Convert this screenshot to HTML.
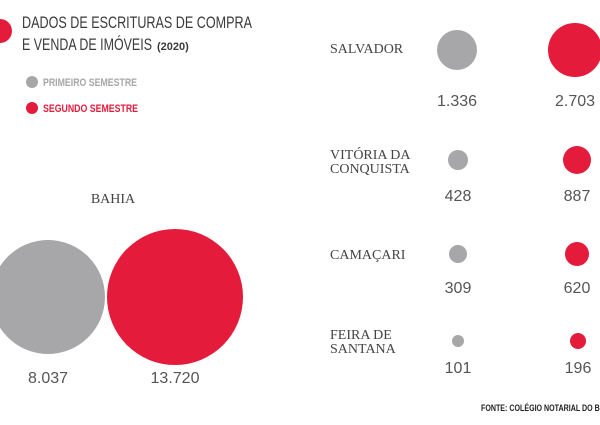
<!DOCTYPE html>
<html><head><meta charset="utf-8"><style>
body{margin:0;width:600px;height:420px;overflow:hidden;background:#fff}
</style></head><body>
<svg width="600" height="420" xmlns="http://www.w3.org/2000/svg">
<circle cx="0" cy="31" r="12" fill="#e41b3b"/>
<g font-family="Liberation Sans, sans-serif" fill="#3a3a3a" font-size="16.5">
<text x="22" y="28" textLength="230" lengthAdjust="spacingAndGlyphs">DADOS DE ESCRITURAS DE COMPRA</text>
<text x="22" y="50" textLength="130" lengthAdjust="spacingAndGlyphs">E VENDA DE IMÓVEIS</text>
<text x="157" y="50" font-size="11" font-weight="bold">(2020)</text>
</g>
<circle cx="32" cy="82" r="6" fill="#a7a7a9"/>
<circle cx="32" cy="108" r="6" fill="#e41b3b"/>
<g font-family="Liberation Sans, sans-serif" font-weight="bold" font-size="11">
<text x="43" y="86" fill="#a7a7a9" textLength="94" lengthAdjust="spacingAndGlyphs">PRIMEIRO SEMESTRE</text>
<text x="43" y="112" fill="#e41b3b" textLength="95" lengthAdjust="spacingAndGlyphs">SEGUNDO SEMESTRE</text>
</g>
<g font-family="Liberation Serif, serif" fill="#444" font-size="14">
<text x="113" y="203" text-anchor="middle">BAHIA</text>
<text x="330" y="53">SALVADOR</text>
<text x="330" y="159">VITÓRIA DA</text>
<text x="330" y="173">CONQUISTA</text>
<text x="330" y="259">CAMAÇARI</text>
<text x="330" y="339">FEIRA DE</text>
<text x="330" y="353">SANTANA</text>
</g>
<circle cx="48" cy="297" r="57" fill="#a7a7a9"/>
<circle cx="175" cy="297" r="68" fill="#e41b3b"/>
<circle cx="457" cy="50" r="20" fill="#a7a7a9"/>
<circle cx="575" cy="50" r="27" fill="#e41b3b"/>
<circle cx="458" cy="160" r="10" fill="#a7a7a9"/>
<circle cx="577" cy="160" r="14" fill="#e41b3b"/>
<circle cx="458" cy="254" r="9" fill="#a7a7a9"/>
<circle cx="577" cy="254" r="12" fill="#e41b3b"/>
<circle cx="458" cy="341" r="6" fill="#a7a7a9"/>
<circle cx="578" cy="341" r="8" fill="#e41b3b"/>
<g font-family="Liberation Sans, sans-serif" fill="#555" font-size="16" text-anchor="middle">
<text x="48" y="383">8.037</text>
<text x="175" y="383">13.720</text>
<text x="457" y="106">1.336</text>
<text x="575" y="106">2.703</text>
<text x="458" y="201">428</text>
<text x="577" y="201">887</text>
<text x="458" y="293">309</text>
<text x="577" y="293">620</text>
<text x="458" y="373">101</text>
<text x="578" y="373">196</text>
</g>
<text x="481" y="411" font-family="Liberation Sans, sans-serif" font-weight="bold" font-size="9" fill="#222" textLength="140" lengthAdjust="spacingAndGlyphs">FONTE: COLÉGIO NOTARIAL DO BRASIL</text>
</svg>
</body></html>
